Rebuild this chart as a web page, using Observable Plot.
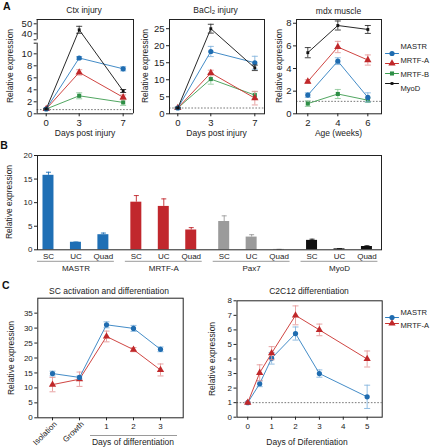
<!DOCTYPE html>
<html><head><meta charset="utf-8">
<script src="https://cdn.jsdelivr.net/npm/d3@7"></script>
<script src="https://cdn.jsdelivr.net/npm/@observablehq/plot@0.6"></script>
<style>
body{margin:0;background:#fff;font-family:"Liberation Sans",Arial,sans-serif;}
#fig{position:relative;width:432px;height:447px;overflow:hidden;background:#fff;}
.lab{position:absolute;transform:translate(-50%,-50%);white-space:nowrap;line-height:1;font-size:8.5px;color:#222;}
.rot{transform:translate(-50%,-50%) rotate(-90deg);}
.leg{transform:translate(0,-50%);font-size:7.6px;}
.let{font-weight:bold;font-size:10.5px;color:#111;}
.uline{position:absolute;height:0;border-top:1px solid #9a9a9a;}
</style></head>
<body><div id="fig"></div>
<script>
// ---------- Panel A: Ctx injury ----------
const ctxDays = [0, 3, 7];
const ctxMASTR = [0.8, 9.3, 7.5];   const ctxMASTRErr = [0.1, 0.25, 0.35];
const ctxMRTFA = [0.8, 6.9, 2.75];  const ctxMRTFAErr = [0.1, 0.45, 0.4];
const ctxMRTFB = [0.8, 3.0, 1.9];   const ctxMRTFBErr = [0.1, 0.5, 0.5];
const ctxMyoD  = [0.8, 44, 3.8];    const ctxMyoDErr  = [0.1, 3.5, 0.25];
const ctxBaseline = 0.7;
const ctxTicks = [0, 2, 4, 6, 8, 10, 40, 50];
// ---------- Panel A: BaCl2 injury ----------
const baDays = [0, 3, 7];
const baMASTR = [1.7, 18.3, 15.0];  const baMASTRErr = [0.2, 1.5, 1.9];
const baMRTFA = [1.7, 12.0, 4.6];   const baMRTFAErr = [0.2, 0.8, 2.0];
const baMRTFB = [1.7, 10.2, 5.5];   const baMRTFBErr = [0.2, 1.5, 1.0];
const baMyoD  = [1.7, 25.0, 13.5];  const baMyoDErr  = [0.2, 1.3, 0.8];
const baBaseline = 1.7;
const baTicks = [0, 5, 10, 15, 20, 25];
// ---------- Panel A: mdx muscle ----------
const mdxAge = [2, 4, 6];
const mdxMASTR = [1.65, 4.65, 1.45]; const mdxMASTRErr = [0.2, 0.3, 0.4];
const mdxMRTFA = [2.85, 5.9, 4.75];  const mdxMRTFAErr = [0.15, 0.5, 0.45];
const mdxMRTFB = [0.9, 1.75, 1.2];   const mdxMRTFBErr = [0.25, 0.4, 0.2];
const mdxMyoD  = [5.4, 7.8, 7.45];   const mdxMyoDErr  = [0.45, 0.4, 0.35];
const mdxBaseline = 1.1;
const mdxTicks = [0, 2, 4, 6, 8];
// ---------- Panel B ----------
const bGenes = ["MASTR", "MRTF-A", "Pax7", "MyoD"];
const bTissues = ["SC", "UC", "Quad"];
const bMASTR = [15.8, 1.6, 3.2];  const bMASTRErr = [0.65, 0.05, 0.35];
const bMRTFA = [10.1, 9.2, 4.2];  const bMRTFAErr = [1.4, 1.6, 0.5];
const bPax7  = [6.0, 2.7, 0.08];  const bPax7Err  = [1.2, 0.5, 0.02];
const bMyoD  = [2.0, 0.2, 0.7];   const bMyoDErr  = [0.25, 0.05, 0.15];
const bTicks = [0, 5, 10, 15, 20];
// ---------- Panel C: SC activation ----------
const scStages = ["Isolation", "Growth", "1", "2", "3"];
const scMASTR = [14.8, 13.5, 31.1, 29.9, 22.9]; const scMASTRErr = [0.8, 0.5, 1.0, 1.0, 0.8];
const scMRTFA = [11.1, 12.9, 27.2, 22.8, 16.0]; const scMRTFAErr = [2.4, 2.4, 1.8, 0.7, 2.0];
const scTicks = [0, 5, 10, 15, 20, 25, 30, 35];
// ---------- Panel C: C2C12 ----------
const c2Days = [0, 0.5, 1, 2, 3, 5];
const c2MASTR = [1.0, 2.3, 4.05, 5.75, 3.0, 1.4];  const c2MASTRErr = [0.05, 0.2, 0.4, 0.45, 0.25, 0.8];
const c2MRTFA = [1.0, 3.05, 4.4, 7.0, 6.0, 4.0];   const c2MRTFAErr = [0.05, 0.55, 0.45, 0.65, 0.4, 0.55];
const c2Baseline = 1;
const c2Ticks = [0, 1, 2, 3, 4, 5, 6, 7, 8];
const c2XTicks = [0, 1, 2, 3, 4, 5];

// ---------- styles ----------
const SER = {
  "MASTR":  {line: "#2f7fc1", fill: "#1f6cb0", err: "#86b6de", symbol: "circle", r: 2.6},
  "MRTF-A": {line: "#c9302c", fill: "#c0282a", err: "#e59a9a", symbol: "triangle", r: 2.7},
  "MRTF-B": {line: "#3d9c4f", fill: "#2e8f46", err: "#93cb9e", symbol: "square", r: 2.3},
  "MyoD":   {line: "#111111", fill: "#111111", err: "#333333", symbol: "square", r: 1.6}
};
const BARCOL = {"MASTR": "#1f6fb5", "MRTF-A": "#c1272d", "Pax7": "#9b9b9b", "MyoD": "#111111"};
const FONT = "Liberation Sans, Arial, sans-serif";
const INK = "#222";
const fig = document.getElementById("fig");
const num = d => String(d);

function capSymbol(w) {
  return {draw(ctx) { ctx.moveTo(-w, 0); ctx.lineTo(w, 0); }};
}
function rows(xs, ys, es) { return xs.map((x, i) => ({x, y: ys[i], e: es[i]})); }
function seriesMarks(data, name, f = v => v, capW = 3) {
  const s = SER[name];
  const cap = capSymbol(capW);
  return [
    Plot.ruleX(data, {x: "x", y1: d => f(d.y - d.e), y2: d => f(d.y + d.e), stroke: s.err, strokeWidth: 0.9}),
    Plot.dot(data, {x: "x", y: d => f(d.y + d.e), symbol: cap, stroke: s.err, fill: "none", strokeWidth: 0.9}),
    Plot.dot(data, {x: "x", y: d => f(d.y - d.e), symbol: cap, stroke: s.err, fill: "none", strokeWidth: 0.9}),
    Plot.line(data, {x: "x", y: d => f(d.y), stroke: s.line, strokeWidth: 0.9}),
    Plot.dot(data, {x: "x", y: d => f(d.y), symbol: s.symbol, fill: s.fill, stroke: "none", r: s.r})
  ];
}
function put(svg, x, y) {
  svg.style.position = "absolute"; svg.style.left = x + "px"; svg.style.top = y + "px";
  fig.appendChild(svg);
}
function lab(html, x, y, cls = "") {
  const d = document.createElement("div");
  d.className = "lab " + cls; d.innerHTML = html;
  d.style.left = x + "px"; d.style.top = y + "px";
  fig.appendChild(d); return d;
}
function uline(x1, x2, y) {
  const d = document.createElement("div"); d.className = "uline";
  d.style.left = x1 + "px"; d.style.width = (x2 - x1) + "px"; d.style.top = y + "px";
  fig.appendChild(d);
}
function baseStyle(fs) { return {fontSize: fs + "px", fontFamily: FONT, color: INK, background: "transparent", overflow: "visible"}; }
const dashed = v => Plot.ruleY([v], {stroke: "#555", strokeDasharray: "1.6,1.6", strokeWidth: 0.8});

// ===== Ctx injury (broken axis) =====
{
  const xmin = -0.82, xmax = 7.94;
  const segLo = 11.77, segHi = 34, ymax = 54.3;
  // broken-axis mapping: lower segment 6 px/unit, short gap, upper segment 1 px/unit
  const brk = d3.scaleLinear().domain([0, segLo, segHi, ymax]).range([0, segLo, segLo + 0.567, segLo + 0.567 + (ymax - segHi) / 6]);
  const top = brk(ymax);
  const p = Plot.plot({
    width: 140, height: 140, marginLeft: 36.7, marginRight: 7, marginTop: 19, marginBottom: 26.7,
    style: baseStyle(9.5),
    x: {domain: [xmin, xmax], ticks: ctxDays, tickFormat: num, tickSize: 3, tickPadding: 2, label: null},
    y: {domain: [0, top], ticks: [...ctxTicks, segLo, segHi].map(brk),
        tickFormat: t => { const v = Math.round(brk.invert(t) * 100) / 100; return ctxTicks.includes(v) ? String(v) : ""; },
        tickSize: 3, tickPadding: 2, label: null},
    marks: [
      dashed(brk(ctxBaseline)),
      ...seriesMarks(rows(ctxDays, ctxMRTFB, ctxMRTFBErr), "MRTF-B", brk),
      ...seriesMarks(rows(ctxDays, ctxMRTFA, ctxMRTFAErr), "MRTF-A", brk),
      ...seriesMarks(rows(ctxDays, ctxMASTR, ctxMASTRErr), "MASTR", brk),
      ...seriesMarks(rows(ctxDays, ctxMyoD, ctxMyoDErr), "MyoD", brk),
      Plot.ruleY([0, top], {stroke: INK}),
      Plot.ruleX([xmax], {stroke: INK}),
      Plot.ruleX([{a: 0, b: brk(segLo)}, {a: brk(segHi), b: top}], {x: xmin, y1: "a", y2: "b", stroke: INK})
    ]
  });
  put(p, 0, 0);
}
// ===== BaCl2 injury =====
{
  const p = Plot.plot({
    width: 130, height: 140, marginLeft: 29, marginRight: 6, marginTop: 19, marginBottom: 26.7,
    style: baseStyle(9.5),
    x: {domain: [-0.755, 7.88], ticks: baDays, tickFormat: num, tickSize: 3, tickPadding: 2, label: null},
    y: {domain: [0, 27.7], ticks: baTicks, tickFormat: num, tickSize: 3, tickPadding: 2, label: null},
    marks: [
      dashed(baBaseline),
      ...seriesMarks(rows(baDays, baMRTFB, baMRTFBErr), "MRTF-B"),
      ...seriesMarks(rows(baDays, baMRTFA, baMRTFAErr), "MRTF-A"),
      ...seriesMarks(rows(baDays, baMASTR, baMASTRErr), "MASTR"),
      ...seriesMarks(rows(baDays, baMyoD, baMyoDErr), "MyoD"),
      Plot.frame({stroke: INK})
    ]
  });
  put(p, 140, 0);
}
// ===== mdx muscle =====
{
  const p = Plot.plot({
    width: 105, height: 140, marginLeft: 16, marginRight: 4, marginTop: 19, marginBottom: 26.7,
    style: baseStyle(9.5),
    x: {domain: [1.247, 6.91], ticks: mdxAge, tickFormat: num, tickSize: 3, tickPadding: 2, label: null},
    y: {domain: [0, 8.33], ticks: mdxTicks, tickFormat: num, tickSize: 3, tickPadding: 2, label: null},
    marks: [
      dashed(mdxBaseline),
      ...seriesMarks(rows(mdxAge, mdxMRTFB, mdxMRTFBErr), "MRTF-B"),
      ...seriesMarks(rows(mdxAge, mdxMRTFA, mdxMRTFAErr), "MRTF-A"),
      ...seriesMarks(rows(mdxAge, mdxMASTR, mdxMASTRErr), "MASTR"),
      ...seriesMarks(rows(mdxAge, mdxMyoD, mdxMyoDErr), "MyoD"),
      Plot.frame({stroke: INK})
    ]
  });
  put(p, 280, 0);
}
// ===== legends (swatches drawn with Plot, names as text beside them) =====
function legend(names, x0, y0, ys) {
  const marks = [];
  for (const n of names) {
    const s = SER[n];
    const sw = [{k: n, a: 0}, {k: n, a: 1}];
    marks.push(Plot.line(sw, {x: "a", y: "k", stroke: s.line, strokeWidth: 1.1}));
    marks.push(Plot.dot([n], {x: () => 0.5, y: d => d, symbol: s.symbol, fill: s.fill, stroke: "none", r: s.r}));
  }
  const y0n = ys[0], y1n = ys[ys.length - 1];
  const p = Plot.plot({
    width: 49, height: y1n + 8, margin: 0, marginLeft: 2, marginRight: 34,
    style: baseStyle(7.6),
    x: {domain: [0, 1], axis: null},
    y: {type: "point", domain: names, range: [y0n, y1n], axis: null},
    marks
  });
  put(p, x0, y0);
  names.forEach((n, i) => {
    const yy = y0 + y0n + (names.length > 1 ? i * (y1n - y0n) / (names.length - 1) : 0);
    lab(n, x0 + 17.5, yy, "leg");
  });
}
legend(["MASTR", "MRTF-A", "MRTF-B", "MyoD"], 383, 38, [9, 51]);
legend(["MASTR", "MRTF-A"], 383, 305, [7.8, 21.2]);

// ===== Panel B bars =====
{
  const vals = {"MASTR": [bMASTR, bMASTRErr], "MRTF-A": [bMRTFA, bMRTFAErr], "Pax7": [bPax7, bPax7Err], "MyoD": [bMyoD, bMyoDErr]};
  const gap = 3.2;
  const marks = [];
  const all = [];
  bGenes.forEach((g, gi) => {
    const [v, e] = vals[g];
    const data = bTissues.map((t, ti) => ({gene: g, tissue: t, pos: gi * gap + ti, v: v[ti], e: e[ti]}));
    all.push(...data);
    marks.push(Plot.ruleX(data, {x: "pos", y1: "v", y2: d => d.v + d.e, stroke: BARCOL[g], strokeWidth: 0.9}));
    marks.push(Plot.dot(data, {x: "pos", y: d => d.v + d.e, symbol: capSymbol(2.5), stroke: BARCOL[g], fill: "none", strokeWidth: 0.9}));
    marks.push(Plot.rectY(data, {x1: d => d.pos - 0.2, x2: d => d.pos + 0.2, y1: 0, y2: "v", fill: BARCOL[g]}));
  });
  const groups = bGenes.map((g, gi) => ({gene: g, start: gi * gap}));
  marks.push(Plot.text(all, {x: "pos", y: 0, text: "tissue", dy: 6.6, fill: INK}));
  marks.push(Plot.ruleY(groups, {y: 0, x1: d => d.start - 0.4, x2: d => d.start + 2.4, dy: 11.5, stroke: "#9a9a9a"}));
  marks.push(Plot.text(groups, {x: d => d.start + 1, y: 0, text: "gene", dy: 18.6, fill: INK}));
  marks.push(Plot.frame({stroke: INK}));
  const p = Plot.plot({
    width: 390, height: 125, marginLeft: 37, marginRight: 9, marginTop: 5, marginBottom: 25.7,
    style: baseStyle(8),
    x: {domain: [-0.40, 12.13], axis: null},
    y: {domain: [0, 20], ticks: bTicks, tickFormat: num, tickSize: 3, tickPadding: 2, label: null},
    marks
  });
  put(p, 0, 150);
}
// ===== SC activation =====
{
  const p = Plot.plot({
    width: 195, height: 162, marginLeft: 37.3, marginRight: 12.3, marginTop: 12.7, marginBottom: 29.7,
    style: baseStyle(8),
    x: {type: "point", domain: scStages, padding: 0.62, align: 0.39, tickSize: 3, tickPadding: 3,
        tickFormat: d => isNaN(+d) ? "" : d, label: null},
    y: {domain: [0, 40], ticks: scTicks, tickFormat: num, tickSize: 3, tickPadding: 2, label: null},
    marks: [
      ...seriesMarks(rows(scStages, scMRTFA, scMRTFAErr), "MRTF-A"),
      ...seriesMarks(rows(scStages, scMASTR, scMASTRErr), "MASTR"),
      Plot.text(scStages.filter(d => isNaN(+d)), {x: d => d, y: 0, text: d => d, rotate: -45, textAnchor: "end", dx: 3, dy: 5, fill: INK}),
      Plot.frame({stroke: INK})
    ]
  });
  put(p, 0, 285);
}
// ===== C2C12 =====
{
  const p = Plot.plot({
    width: 172, height: 162, marginLeft: 21.5, marginRight: 5.3, marginTop: 15.3, marginBottom: 30.3,
    style: baseStyle(8),
    x: {domain: [-0.45, 5.63], ticks: c2XTicks, tickFormat: num, tickSize: 3, tickPadding: 3, label: null},
    y: {domain: [0, 8], ticks: c2Ticks, tickFormat: num, tickSize: 3, tickPadding: 2, label: null},
    marks: [
      dashed(c2Baseline),
      ...seriesMarks(rows(c2Days, c2MASTR, c2MASTRErr), "MASTR"),
      ...seriesMarks(rows(c2Days, c2MRTFA, c2MRTFAErr), "MRTF-A"),
      Plot.frame({stroke: INK})
    ]
  });
  put(p, 215, 285);
}

// ===== text labels =====
lab("A", 6.7, 5.5, "let");
lab("B", 4, 145, "let");
lab("C", 5.8, 284.7, "let");
lab("Ctx injury", 84, 10);
lab("BaCl<sub style='font-size:6px;vertical-align:-1px'>2</sub> injury", 215.5, 10);
lab("mdx muscle", 338.5, 10.5);
lab("Days post injury", 85, 133);
lab("Days post injury", 216.5, 133);
lab("Age (weeks)", 338.5, 133);
lab("Relative expression", 9.5, 66, "rot");
lab("Relative expression", 145, 66, "rot");
lab("Relative expression", 278.5, 66, "rot");
lab("Relative expression", 9, 202, "rot");
lab("SC activation and differentiation", 109, 291);
lab("C2C12 differentiation", 309, 291);
lab("Relative expression", 10.7, 357.5, "rot");
lab("Relative expression", 211.7, 358.5, "rot");
uline(90, 177, 435);
lab("Days of differentiation", 133, 442);
lab("Days of Diferentiation", 307, 441.7);
</script>
</body></html>
